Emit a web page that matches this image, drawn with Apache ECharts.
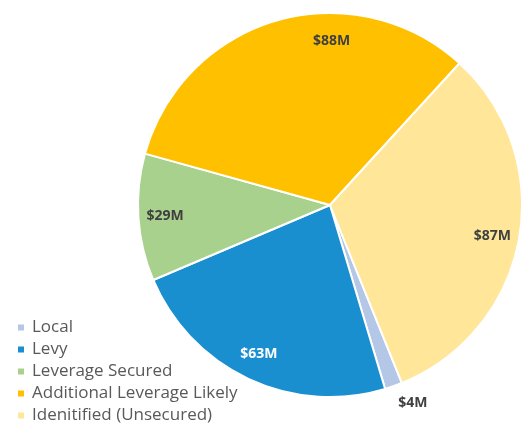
<!DOCTYPE html>
<html>
<head>
<meta charset="utf-8">
<script src="https://cdn.jsdelivr.net/npm/echarts@6/dist/echarts.min.js"></script>
<style>
  html, body { margin: 0; padding: 0; background: #ffffff; }
  #chart { width: 523px; height: 424px; }
</style>
</head>
<body>
<div id="chart"></div>
<script>
// Funding sources, in millions of dollars
const categories = ['Local', 'Levy', 'Leverage Secured', 'Additional Leverage Likely', 'Idenitified (Unsecured)'];
const values = [4, 63, 29, 88, 87];
const colors = ['#B4C7E7', '#1A8FD0', '#A9D18E', '#FFC000', '#FFE699'];
const labelColors = ['#404040', '#ffffff', '#404040', '#404040', '#404040'];

// Label nudges from the default inside position, per slice
const labelShift = [[50, 105], [-29, 59], [-66, 5], [29, -69], [65, 13]];

const chart = echarts.init(document.getElementById('chart'), null, { renderer: 'canvas' });

chart.setOption({
  backgroundColor: '#ffffff',
  animation: false,
  color: colors,
  legend: {
    orient: 'vertical',
    left: 16,
    bottom: 0,
    padding: 0,
    itemWidth: 8,
    itemHeight: 8,
    itemGap: 5,
    icon: 'rect',
    textStyle: { color: '#595959', fontSize: 17, lineHeight: 17, fontFamily: 'Open Sans', padding: [0, 0, 0, 2] },
    data: categories
  },
  series: [{
    type: 'pie',
    center: [330, 205],
    radius: 192,
    startAngle: -68,
    clockwise: true,
    silent: true,
    itemStyle: { borderColor: '#ffffff', borderWidth: 2 },
    label: {
      show: true,
      position: 'inside',
      fontFamily: 'Open Sans',
      fontSize: 14,
      fontWeight: 'bold',
      formatter: p => '$' + p.value + 'M'
    },
    labelLine: { show: false },
    labelLayout: p => ({ dx: labelShift[p.dataIndex][0], dy: labelShift[p.dataIndex][1] }),
    data: categories.map((name, i) => ({
      name: name,
      value: values[i],
      label: { color: labelColors[i] }
    }))
  }]
});
</script>
</body>
</html>
